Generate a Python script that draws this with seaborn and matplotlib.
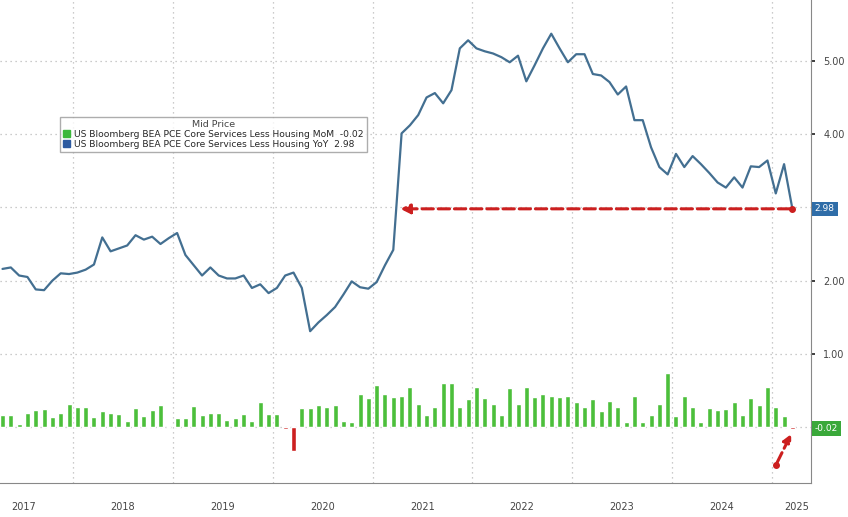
import numpy as np
import pandas as pd
import matplotlib.pyplot as plt
import seaborn as sns
from matplotlib.patches import Patch

# YoY (%) - monthly, ends at latest print 2.98
yoy = [2.16, 2.18, 2.07, 2.05, 1.88, 1.87, 2.00, 2.10, 2.09, 2.11, 2.15, 2.22,
       2.59, 2.40, 2.44, 2.48, 2.62, 2.56, 2.60, 2.50, 2.58, 2.65, 2.35, 2.21,
       2.07, 2.18, 2.07, 2.03, 2.03, 2.07, 1.90, 1.95, 1.83, 1.90, 2.07, 2.11,
       1.90, 1.31, 1.43, 1.53, 1.64, 1.81, 1.99, 1.91, 1.89, 1.98, 2.21, 2.42,
       4.01, 4.12, 4.26, 4.50, 4.56, 4.42, 4.60, 5.17, 5.28, 5.17, 5.13, 5.10,
       5.05, 4.98, 5.07, 4.72, 4.94, 5.17, 5.37, 5.17, 4.98, 5.09, 5.09, 4.82,
       4.80, 4.71, 4.54, 4.65, 4.19, 4.19, 3.82, 3.55, 3.45, 3.73, 3.55, 3.70,
       3.59, 3.47, 3.34, 3.27, 3.41, 3.27, 3.56, 3.55, 3.64, 3.19, 3.59, 2.98]

# MoM (%) - monthly
mom = [0.33, 0.17, 0.17, 0.05, 0.19, 0.23, 0.25, 0.14, 0.20, 0.32, 0.27, 0.27,
       0.14, 0.22, 0.19, 0.18, 0.09, 0.26, 0.15, 0.23, 0.30, 0.00, 0.13, 0.13,
       0.29, 0.16, 0.19, 0.20, 0.10, 0.12, 0.18, 0.09, 0.35, 0.18, 0.18, -0.02,
       -0.32, 0.26, 0.26, 0.30, 0.28, 0.30, 0.09, 0.07, 0.45, 0.40, 0.58, 0.45,
       0.41, 0.42, 0.55, 0.32, 0.17, 0.28, 0.60, 0.60, 0.28, 0.39, 0.55, 0.40,
       0.32, 0.16, 0.54, 0.32, 0.55, 0.41, 0.45, 0.43, 0.41, 0.42, 0.34, 0.27,
       0.39, 0.22, 0.36, 0.28, 0.07, 0.42, 0.07, 0.16, 0.32, 0.74, 0.15, 0.43,
       0.27, 0.07, 0.26, 0.23, 0.25, 0.35, 0.16, 0.40, 0.30, 0.55, 0.27, 0.15,
       -0.02]

years = [2017, 2018, 2019, 2020, 2021, 2022, 2023, 2024, 2025]
y_ticks = [1.0, 2.0, 3.0, 4.0, 5.0]

LAST = 98  # months since Jan 2017 of the latest print
BLUE = "#436f91"
GREEN = "#4cbf3b"
RED = "#cc1f1f"

line_df = pd.DataFrame({"m": np.arange(LAST - len(yoy) + 1, LAST + 1), "v": yoy})
bar_df = pd.DataFrame({"m": np.arange(LAST - len(mom) + 1, LAST + 1), "v": mom})

sns.set_theme(style="white")
fig = plt.figure(figsize=(8.48, 5.17), dpi=100)
ax = fig.add_axes([0.0, 0.066, 0.956, 0.934])

bar_colors = [RED if v < 0 else GREEN for v in bar_df["v"]]
ax.bar(bar_df["m"], bar_df["v"], width=0.6, color=bar_colors, zorder=2)
sns.lineplot(data=line_df, x="m", y="v", color=BLUE, linewidth=1.6, ax=ax, zorder=3)

ax.set_xlim(line_df["m"].iloc[0] - 0.3, LAST + 2.2)
ax.set_ylim(-0.76, 5.83)

# grid
for b in years[1:]:
    ax.axvline((b - 2017) * 12 - 0.5, color="#bbbbbb", ls=(0, (1, 3)), lw=0.9, zorder=0)
for t in y_ticks + [0.0]:
    ax.axhline(t, color="#bbbbbb", ls=(0, (1, 3)), lw=0.9, zorder=0)

# axes styling
ax.yaxis.tick_right()
ax.set_yticks(y_ticks)
ax.set_yticklabels(["" if t == 3.0 else f"{t:.2f}" for t in y_ticks], fontsize=7, color="#444444")
ax.tick_params(axis="y", length=3, pad=6)
ax.set_xticks([(b - 2017) * 12 - 0.5 for b in years[1:]])
ax.set_xticklabels([])
ax.tick_params(axis="x", which="major", length=34, color="#888888", direction="out")
ax.set_xticks([(b - 2017) * 12 + 5.5 for b in years[:-1]] + [(2025 - 2017) * 12 + 2.5], minor=True)
ax.set_xticklabels([str(y) for y in years], minor=True, fontsize=7, color="#444444")
ax.tick_params(axis="x", which="minor", length=0, pad=14)
ax.set_xlabel("")
ax.set_ylabel("")
for s in ["top", "left"]:
    ax.spines[s].set_visible(False)
for s in ["right", "bottom"]:
    ax.spines[s].set_color("#888888")
    ax.spines[s].set_linewidth(0.8)

# right-hand value boxes
ax.annotate(f"{yoy[-1]:.2f}", xy=(1.0, yoy[-1]), xycoords=("axes fraction", "data"),
            xytext=(3, 0), textcoords="offset points", va="center", ha="left",
            fontsize=6.5, color="white",
            bbox=dict(boxstyle="square,pad=0.3", fc="#2f6da8", ec="none"))
ax.annotate(f"{mom[-1]:.2f}", xy=(1.0, mom[-1]), xycoords=("axes fraction", "data"),
            xytext=(3, 0), textcoords="offset points", va="center", ha="left",
            fontsize=6.5, color="white",
            bbox=dict(boxstyle="square,pad=0.3", fc="#3aa83a", ec="none"))

# red dashed arrows
ax.annotate("", xy=(50.5, yoy[-1]), xytext=(LAST, yoy[-1]),
            arrowprops=dict(arrowstyle="-|>", color=RED, lw=2.2, ls="--", mutation_scale=14))
ax.plot([LAST], [yoy[-1]], "o", color=RED, ms=4, zorder=4)
ax.annotate("", xy=(LAST, -0.06), xytext=(LAST - 2, -0.52),
            arrowprops=dict(arrowstyle="-|>", color=RED, lw=2.2, ls="--", mutation_scale=12))
ax.plot([LAST - 2], [-0.52], "o", color=RED, ms=4, zorder=4)

# legend box
handles = [Patch(color="#3cb83c", label=f"US Bloomberg BEA PCE Core Services Less Housing MoM  {mom[-1]:.2f}"),
           Patch(color="#2c5aa0", label=f"US Bloomberg BEA PCE Core Services Less Housing YoY  {yoy[-1]:.2f}")]
leg = fig.legend(handles=handles, title="Mid Price", loc="upper left",
                 bbox_to_anchor=(55 / 848, 1 - 112 / 517), fontsize=6.6, title_fontsize=6.8,
                 handlelength=0.8, handleheight=0.8, handletextpad=0.4, borderpad=0.35,
                 labelspacing=0.1, frameon=True, fancybox=False, edgecolor="#999999")
leg.get_title().set_color("#444444")

fig.savefig("out.png", dpi=100)
